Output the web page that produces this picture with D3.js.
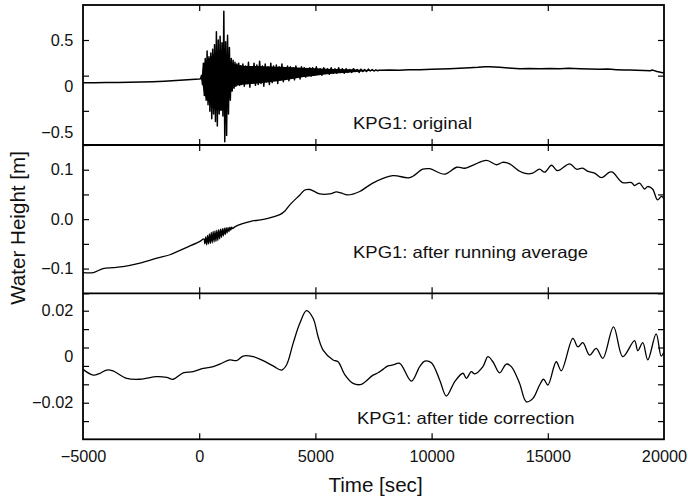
<!DOCTYPE html>
<html><head><meta charset="utf-8">
<script src="https://cdn.jsdelivr.net/npm/d3@7"></script>
<style>
body{margin:0;background:#fff;}
svg{display:block;}
text{font-family:"Liberation Sans",Arial,Helvetica,sans-serif;fill:#111;}
</style></head>
<body>
<svg id="chart" width="688" height="500"></svg>
<script>
// ---------------- DATA ----------------
const xTicks = [-5000, 0, 5000, 10000, 15000, 20000];
const xTickLabels = ["\u22125000", "0", "5000", "10000", "15000", "20000"];

// Panel 1: original record
const origPre = [[-5000,0.038],[-4500,0.037],[-4000,0.040],[-3500,0.042],[-3000,0.045],[-2500,0.047],[-2000,0.050],[-1500,0.055],[-1000,0.062],[-500,0.070],[0,0.080],[60,0.082]];
const burstStart = 100, burstStep = 40;
const burstValues = [0.12,0.02,0.25,-0.10,0.30,-0.15,0.38,-0.20,0.32,-0.27,0.36,-0.35,0.40,-0.30,0.45,-0.38,0.59,-0.43,0.50,-0.30,0.54,-0.26,0.47,-0.32,0.81,-0.60,0.48,-0.53,0.55,-0.30,0.42,-0.15,0.30,-0.05,0.28,-0.02,0.26,0.00,0.24,0.02,0.25,0.01,0.22];
const tailAStart = 1820, tailAStep = 60;
const tailAValues = [0.02,0.24,0.00,0.22,0.03,0.26,-0.01,0.21,0.04,0.25,0.01,0.23,0.02,0.27,0.03,0.22,0.00,0.24,0.05,0.21,0.02,0.25,0.04,0.22,0.06,0.23,0.03,0.21,0.07,0.24,0.05,0.20,0.08,0.22,0.06,0.21,0.09,0.20,0.07,0.22,0.10,0.19,0.08,0.21,0.11,0.20,0.10,0.19,0.12,0.20,0.11];
const tailBStart = 4880, tailBStep = 80;
const tailBValues = [0.20,0.12,0.21,0.13,0.19,0.12,0.20,0.14,0.19,0.13,0.20,0.14,0.19,0.14,0.20,0.15,0.19,0.14,0.19,0.15,0.18,0.15,0.19,0.16,0.18,0.15,0.185,0.16,0.18,0.16,0.185,0.165,0.18,0.165,0.178,0.168,0.175];
const origPost = [[7800,0.172],[8200,0.176],[8600,0.174],[9000,0.178],[9490,0.180],[10000,0.183],[10400,0.186],[10780,0.190],[11200,0.195],[11640,0.200],[12000,0.205],[12300,0.212],[12500,0.210],[12930,0.205],[13300,0.198],[13790,0.190],[14200,0.192],[14650,0.190],[15100,0.193],[15510,0.190],[15900,0.194],[16370,0.190],[16800,0.188],[17230,0.185],[17600,0.186],[17960,0.180],[18300,0.176],[18520,0.175],[18800,0.172],[19160,0.170],[19400,0.168],[19510,0.175],[19700,0.160],[19940,0.147],[20000,0.150]];
// dense core of the oscillation (envelope)
const coreT     = [120, 200, 400, 600, 800, 1000, 1200, 1350, 1500, 1700, 2000, 2500, 3000, 3500, 4000, 4500, 5000, 5500, 6000, 6500, 7000, 7500];
const coreUpper = [0.14,0.24,0.30,0.34,0.38,0.40,0.34,0.27,0.24,0.23,0.22,0.22,0.215,0.21,0.205,0.20,0.195,0.19,0.187,0.183,0.18,0.177];
const coreLower = [0.05,-0.06,-0.17,-0.24,-0.26,-0.26,-0.22,-0.08,-0.01,0.01,0.02,0.03,0.045,0.06,0.08,0.10,0.115,0.13,0.14,0.15,0.16,0.168];
const topLabelValues = [0.5, 0, -0.5];
const topLabels = ["0.5", "0", "\u22120.5"];
const topTickValues = [0.5, 0.115, -0.265];

// Panel 2: after running average
const avgData = [[-5000,-0.108],[-4557,-0.108],[-4140,-0.100],[-3700,-0.098],[-3280,-0.096],[-2550,-0.089],[-1819,-0.079],[-1260,-0.072],[-529,-0.057],[30,-0.045],
 [200,-0.040],[240,-0.050],[280,-0.036],[320,-0.052],[360,-0.033],[400,-0.050],[440,-0.030],[480,-0.049],[520,-0.027],[560,-0.048],[600,-0.025],[640,-0.046],[680,-0.024],[720,-0.045],[760,-0.022],[800,-0.043],[840,-0.021],[880,-0.040],[920,-0.020],[960,-0.037],[1000,-0.019],[1040,-0.034],[1080,-0.018],[1120,-0.031],[1160,-0.017],[1200,-0.028],[1240,-0.017],[1280,-0.025],[1320,-0.016],[1360,-0.022],[1400,-0.016],[1440,-0.019],
 [1550,-0.015],[2180,-0.005],[2911,0.001],[3470,0.009],[3700,0.017],[3900,0.029],[4330,0.049],[4545,0.059],[4760,0.060],[4950,0.056],[5190,0.051],[5620,0.051],[5907,0.055],[6100,0.053],[6392,0.049],[6908,0.056],[7467,0.073],[8327,0.088],[9058,0.084],[9617,0.101],[9918,0.102],[10563,0.091],[11078,0.105],[11422,0.103],[11766,0.109],[12368,0.119],[12798,0.110],[13056,0.115],[13357,0.112],[13787,0.097],[14088,0.092],[14346,0.093],[14647,0.101],[14862,0.095],[15163,0.109],[15421,0.098],[15937,0.112],[16238,0.101],[16496,0.103],[16711,0.097],[17012,0.093],[17313,0.084],[17657,0.095],[17786,0.095],[18216,0.074],[18603,0.074],[18732,0.068],[18947,0.073],[19162,0.061],[19291,0.066],[19506,0.061],[19721,0.039],[19893,0.046],[20000,0.041]];
const midLabelValues = [0.1, 0, -0.1];
const midLabels = ["0.1", "0.0", "\u22120.1"];
const midTickValues = [0.15, 0.1, 0.05, 0, -0.05, -0.1, -0.15];

// Panel 3: after tide correction
const tideData = [[-5000,-0.0055],[-4557,-0.0080],[-4269,-0.0072],[-3981,-0.0058],[-3710,-0.0062],[-3121,-0.0094],[-2550,-0.0098],[-1832,-0.0087],[-1402,-0.0090],[-1118,-0.0098],[-688,-0.0070],[-258,-0.0065],[172,-0.0051],[602,-0.0043],[890,-0.0032],[1320,-0.0014],[1608,-0.0017],[1891,0.0003],[2321,0.0000],[2751,-0.0017],[3181,-0.0040],[3542,-0.0058],[3757,-0.0036],[4041,0.0058],[4329,0.0145],[4617,0.0200],[4901,0.0167],[5116,0.0087],[5331,0.0029],[5761,-0.0014],[5976,-0.0022],[6263,-0.0078],[6620,-0.0116],[6981,-0.0120],[7480,-0.0080],[7695,-0.0070],[7910,-0.0055],[8125,-0.0040],[8340,-0.0036],[8628,-0.0029],[9131,-0.0106],[9488,-0.0043],[9703,-0.0019],[9991,-0.0026],[10347,-0.0101],[10636,-0.0171],[10992,-0.0109],[11349,-0.0072],[11495,-0.0094],[11710,-0.0065],[11852,-0.0075],[12209,-0.0043],[12424,0.0000],[12639,-0.0022],[12927,-0.0070],[13215,-0.0032],[13430,-0.0043],[13787,-0.0116],[14075,-0.0196],[14359,-0.0181],[14646,-0.0123],[14818,-0.0098],[15003,-0.0123],[15364,-0.0022],[15579,-0.0061],[16078,0.0080],[16293,0.0043],[16508,0.0061],[16796,0.0007],[17084,0.0036],[17368,-0.0007],[17828,0.0130],[18228,0.0000],[18731,0.0070],[18873,0.0026],[19087,0.0061],[19302,-0.0014],[19663,0.0099],[19878,0.0003],[20000,0.0022]];
const botLabelValues = [0.02, 0, -0.02];
const botLabels = ["0.02", "0", "\u22120.02"];
const botTickValues = [0.02, 0.012, 0.004, -0.004, -0.012, -0.02, -0.028];

const annotations = ["KPG1: original", "KPG1: after running average", "KPG1: after tide correction"];

// ---------------- BUILD ----------------
function series(start, step, vals){ return vals.map((v,i)=>[start+i*step, v]); }
const origData = origPre
  .concat(series(burstStart, burstStep, burstValues))
  .concat(series(tailAStart, tailAStep, tailAValues))
  .concat(series(tailBStart, tailBStep, tailBValues))
  .concat(origPost);

const svg = d3.select("#chart");
const L = 83, R = 664;
const x = d3.scaleLinear().domain([-5000, 20000]).range([L, R]);

const panels = [
  {top:5, bottom:145, domain:[-0.634, 0.878], data:origData, curve:d3.curveLinear, width:1.5,
   labelValues:topLabelValues, labels:topLabels, ticks:topTickValues, text:annotations[0], tx:353, ty:129},
  {top:145, bottom:293.3, domain:[-0.15, 0.15], data:avgData, curve:d3.curveCatmullRom.alpha(0.5), width:1.3,
   labelValues:midLabelValues, labels:midLabels, ticks:midTickValues, text:annotations[1], tx:353, ty:258},
  {top:293.3, bottom:439.3, domain:[-0.03591, 0.02757], data:tideData, curve:d3.curveCatmullRom.alpha(0.5), width:1.3,
   labelValues:botLabelValues, labels:botLabels, ticks:botTickValues, text:annotations[2], tx:357, ty:423.5}
];

const defs = svg.append("defs");
panels.forEach((p, i) => {
  const y = d3.scaleLinear().domain(p.domain).range([p.bottom, p.top]);
  defs.append("clipPath").attr("id","clip"+i).append("rect")
    .attr("x", L).attr("y", p.top).attr("width", R-L).attr("height", p.bottom-p.top);

  const g = svg.append("g");
  if (i === 0) {
    const core = coreT.map((t,j)=>[t, coreUpper[j], coreLower[j]]);
    g.append("path").datum(core).attr("clip-path","url(#clip0)")
      .attr("fill","#000").attr("stroke","none")
      .attr("d", d3.area().x(d=>x(d[0])).y0(d=>y(d[2])).y1(d=>y(d[1])).curve(d3.curveMonotoneX));
  }
  // data
  g.append("path").datum(p.data)
    .attr("clip-path","url(#clip"+i+")")
    .attr("fill","none").attr("stroke","#000").attr("stroke-width",p.width)
    .attr("stroke-linejoin","round")
    .attr("d", d3.line().x(d=>x(d[0])).y(d=>y(d[1])).curve(p.curve));

  // x ticks inward at top and bottom of panel
  const tickStyle = sel => { sel.select(".domain").remove(); sel.selectAll("line").attr("stroke","#000").attr("stroke-width",1.2); };
  g.append("g").attr("transform",`translate(0,${p.top})`)
    .call(d3.axisBottom(x).tickValues(xTicks.slice(1,-1)).tickSize(6).tickFormat("")).call(tickStyle);
  g.append("g").attr("transform",`translate(0,${p.bottom})`)
    .call(d3.axisTop(x).tickValues(xTicks.slice(1,-1)).tickSize(6).tickFormat("")).call(tickStyle);
  // y ticks inward left and right
  g.append("g").attr("transform",`translate(${L},0)`)
    .call(d3.axisRight(y).tickValues(p.ticks).tickSize(6).tickFormat("")).call(tickStyle);
  g.append("g").attr("transform",`translate(${R},0)`)
    .call(d3.axisLeft(y).tickValues(p.ticks).tickSize(6).tickFormat("")).call(tickStyle);
  // y labels
  const la = g.append("g").attr("transform",`translate(${L},0)`)
    .call(d3.axisLeft(y).tickValues(p.labelValues).tickSize(0).tickPadding(9.7)
      .tickFormat((d,j)=>p.labels[j]));
  la.select(".domain").remove();
  la.selectAll("text").attr("font-size","16.3px").attr("fill","#111")
    .attr("font-family","Liberation Sans, Arial, sans-serif");

  // annotation
  g.append("text").attr("transform",`translate(${p.tx},${p.ty}) scale(1.12,1)`)
    .attr("font-size","16.5px").text(p.text);
});

// frame
svg.append("rect").attr("x",L).attr("y",5).attr("width",R-L).attr("height",439.3-5)
  .attr("fill","none").attr("stroke","#000").attr("stroke-width",1.8);
[145, 293.3].forEach(yy => svg.append("line").attr("x1",L).attr("x2",R).attr("y1",yy).attr("y2",yy)
  .attr("stroke","#000").attr("stroke-width",1.8));

// bottom x labels
const xa = svg.append("g").attr("transform","translate(0,439.3)")
  .call(d3.axisBottom(x).tickValues(xTicks).tickSize(0).tickPadding(11).tickFormat((d,j)=>xTickLabels[j]));
xa.select(".domain").remove();
xa.selectAll("text").attr("font-size","16.3px").attr("fill","#111")
  .attr("font-family","Liberation Sans, Arial, sans-serif");

// axis titles
svg.append("text").attr("x",(L+R)/2+2).attr("y",492).attr("text-anchor","middle")
  .attr("font-size","20.6px").text("Time [sec]");
svg.append("text").attr("transform","translate(25,228) rotate(-90)").attr("text-anchor","middle")
  .attr("font-size","20.6px").text("Water Height [m]");
</script>
</body></html>
